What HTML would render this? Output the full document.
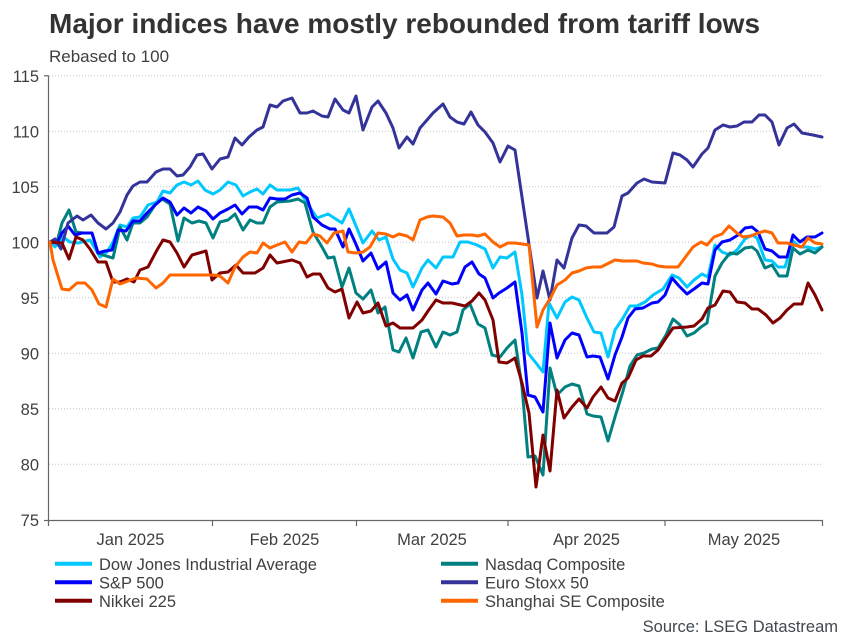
<!DOCTYPE html>
<html>
<head>
<meta charset="utf-8">
<style>
  html, body { margin: 0; padding: 0; background: #fff; }
  body { width: 850px; height: 638px; overflow: hidden; }
  svg { display: block; font-family: "Liberation Sans", Arial, sans-serif; }
</style>
</head>
<body>
<svg width="850" height="638" viewBox="0 0 850 638" xmlns="http://www.w3.org/2000/svg">
  <rect width="850" height="638" fill="#fff"/>
  <!-- Title -->
  <text x="49" y="33" font-size="28" font-weight="bold" fill="#333">Major indices have mostly rebounded from tariff lows</text>
  <text x="49" y="62" font-size="17" fill="#404040">Rebased to 100</text>

  <!-- Gridlines -->
  <g stroke="#c4c4c4" stroke-width="1" stroke-dasharray="1,2">
    <line x1="49" y1="75.8" x2="823" y2="75.8"/>
    <line x1="49" y1="131.3" x2="823" y2="131.3"/>
    <line x1="49" y1="186.8" x2="823" y2="186.8"/>
    <line x1="49" y1="242.3" x2="823" y2="242.3"/>
    <line x1="49" y1="297.8" x2="823" y2="297.8"/>
    <line x1="49" y1="353.3" x2="823" y2="353.3"/>
    <line x1="49" y1="408.8" x2="823" y2="408.8"/>
    <line x1="49" y1="464.3" x2="823" y2="464.3"/>
  </g>

  <!-- Axes -->
  <g stroke="#666" stroke-width="1.2" fill="none">
    <line x1="48.5" y1="75.8" x2="48.5" y2="521"/>
    <line x1="48" y1="520.5" x2="823" y2="520.5"/>
    <line x1="44" y1="75.8" x2="48.5" y2="75.8"/>
    <line x1="44" y1="520.5" x2="48.5" y2="520.5"/>
    <line x1="48.5" y1="520.5" x2="48.5" y2="526"/>
    <line x1="212.5" y1="520.5" x2="212.5" y2="526"/>
    <line x1="356.5" y1="520.5" x2="356.5" y2="526"/>
    <line x1="508" y1="520.5" x2="508" y2="526"/>
    <line x1="665" y1="520.5" x2="665" y2="526"/>
    <line x1="822.5" y1="520.5" x2="822.5" y2="526"/>
  </g>

  <!-- Y labels -->
  <g font-size="16.5" fill="#404040" text-anchor="end">
    <text x="39" y="81.8">115</text>
    <text x="39" y="137.3">110</text>
    <text x="39" y="192.8">105</text>
    <text x="39" y="248.3">100</text>
    <text x="39" y="303.8">95</text>
    <text x="39" y="359.3">90</text>
    <text x="39" y="414.8">85</text>
    <text x="39" y="470.3">80</text>
    <text x="39" y="526">75</text>
  </g>

  <!-- X labels -->
  <g font-size="16.5" fill="#404040" text-anchor="middle">
    <text x="130.5" y="545">Jan 2025</text>
    <text x="284.5" y="545">Feb 2025</text>
    <text x="432" y="545">Mar 2025</text>
    <text x="586.5" y="545">Apr 2025</text>
    <text x="744" y="545">May 2025</text>
  </g>

  <!-- Series -->
  <g fill="none" stroke-width="3" stroke-linejoin="round" stroke-linecap="round">
    <!-- Dow Jones -->
    <polyline stroke="#00c8ff" points="50,242 55,247 63,237 70,242 78,243 90,240 100,257 107,252 113,242 120,225 127,227 133,218 140,217 148,205 157,202 163,191 170,193 177,185 184,182 191,185 198,181 205,190 213,194 220,190 228,182 236,185 243,196 250,192 257,189 263,194 270,185 277,190 290,190 298,188 307,203 317,218 328,214 342,223 349,209 363,243 372,231 379,240 386,237 393,259 400,270 407,273 413,287 422,268 428,260 436,268 443,257 453,257 460,242 468,242 477,245 485,249 493,268 500,257 507,258 515,252 522,295 528,353 536,363 543,372 549,303 557,318 565,302 572,297 579,300 587,318 594,332 601,333 608,357 615,330 623,318 630,306 637,306 645,302 653,295 663,289 672,275 679,278 687,287 694,280 702,274 708,277 715,245 722,252 730,255 737,250 745,239 752,235 757,238 765,260 772,261 778,267 785,267 793,241 800,247 808,247 815,249 822,247"/>
    <!-- Nasdaq -->
    <polyline stroke="#008080" points="50,242 57,242 62,223 69,210 76,232 83,233 92,233 98,253 106,256 113,258 120,227 127,240 133,223 140,223 147,217 155,205 162,199 170,204 178,241 184,218 192,223 199,221 206,223 213,238 220,222 228,220 235,214 243,230 250,220 257,223 263,223 270,207 277,202 290,201 298,199 305,203 313,232 322,247 328,258 334,257 342,287 349,268 356,293 363,299 371,290 378,313 385,307 393,350 399,352 406,338 413,358 421,332 428,330 436,347 443,332 450,335 457,332 463,310 470,304 478,324 485,328 492,355 500,357 507,348 515,340 522,387 528,457 535,456 543,475 550,368 557,395 565,387 572,384 579,386 587,414 593,416 601,417 608,441 615,417 623,391 630,366 637,355 644,353 652,349 658,348 666,335 673,319 680,325 687,336 694,333 701,327 707,323 715,276 722,263 730,253 737,254 745,248 752,247 757,251 765,268 772,265 779,276 787,276 793,248 800,254 808,250 815,253 822,247"/>
    <!-- S&P 500 -->
    <polyline stroke="#0000ff" points="50,242 57,243 62,233 68,226 75,235 82,233 92,233 98,253 105,251 112,250 118,230 126,231 133,221 140,221 147,213 155,205 163,198 170,202 177,215 184,208 191,213 198,207 206,211 213,219 220,213 228,209 235,205 242,214 249,207 257,207 263,210 270,198 277,199 285,199 292,195 300,193 307,198 313,217 322,225 330,229 335,229 343,247 349,229 355,242 363,261 371,253 378,269 386,262 393,293 400,300 407,295 413,310 422,290 428,283 436,294 443,281 452,284 458,283 465,267 472,262 479,274 485,278 493,298 499,293 507,288 515,282 522,333 528,395 535,397 543,412 550,323 557,358 565,340 572,333 579,335 587,357 593,356 600,357 608,379 615,355 622,337 628,318 635,309 643,308 652,303 658,302 665,295 672,278 679,286 687,294 694,289 702,283 708,284 715,250 722,242 730,240 738,235 745,228 752,227 758,232 765,249 772,251 779,257 787,257 793,235 800,242 807,237 815,237 822,233"/>
    <!-- Euro Stoxx 50 -->
    <polyline stroke="#333399" points="50,242 55,239 61,249 68,223 77,216 83,220 91,215 98,223 106,229 113,223 120,212 127,195 133,186 140,182 147,182 156,172 163,169 170,169 177,176 183,175 190,167 197,155 203,154 212,169 220,159 228,157 235,138 242,145 249,137 257,130 263,127 270,105 277,107 283,101 292,98 300,113 307,113 313,111 322,116 328,117 335,99 343,110 349,113 356,96 363,130 372,107 378,101 386,113 393,128 399,148 407,137 413,144 420,128 427,120 433,113 443,104 450,117 457,122 464,124 471,112 478,125 485,132 493,143 500,162 508,146 515,150 537,298 543,271 550,300 557,260 564,268 572,238 579,225 586,226 594,233 607,233 614,227 622,196 628,193 637,183 644,179 652,182 665,183 673,153 680,155 687,160 693,167 702,154 708,148 715,130 723,125 730,127 737,126 744,122 752,122 759,115 765,115 772,122 779,145 787,128 794,124 802,133 813,135 822,137"/>
    <!-- Nikkei 225 -->
    <polyline stroke="#800000" points="50,242 62,243 69,259 76,237 83,240 90,249 98,262 106,262 113,282 120,282 127,279 134,282 140,270 148,267 157,250 163,240 170,242 177,253 184,267 192,255 199,253 206,251 212,280 220,273 228,272 236,265 243,273 255,273 263,268 270,255 277,263 292,260 300,263 307,277 313,274 320,274 328,288 335,292 342,289 349,318 357,302 363,313 371,311 378,303 386,326 393,323 400,328 413,328 422,320 428,311 436,300 443,303 452,303 465,306 472,301 479,293 485,300 493,320 499,362 507,363 515,358 522,383 529,413 536,487 543,435 550,471 557,390 564,418 572,407 579,399 587,408 593,397 601,387 608,398 615,401 622,383 628,378 636,360 643,356 651,356 658,350 666,338 673,328 687,327 694,326 702,319 708,308 715,305 723,291 730,292 737,302 745,303 752,309 758,309 766,315 773,323 780,318 787,310 794,304 802,304 808,283 815,295 822,310"/>
    <!-- Shanghai -->
    <polyline stroke="#ff6600" points="50,242 53,260 57,273 62,289 69,290 77,283 85,283 92,290 99,304 106,307 113,279 120,284 128,281 136,278 147,279 156,288 163,283 170,275 213,275 220,276 228,283 235,267 243,257 250,252 257,253 263,243 270,248 277,245 285,242 292,252 299,242 306,243 313,234 320,236 327,243 334,233 343,231 348,252 356,253 363,252 370,247 378,233 386,234 393,237 399,234 407,236 413,240 420,220 427,217 433,216 443,217 450,223 457,236 464,235 472,235 478,236 485,234 493,242 500,247 508,243 515,243 529,245 537,327 543,310 551,297 557,285 565,280 572,273 579,271 586,268 593,267 601,267 607,264 615,260 623,261 637,261 643,263 652,264 658,266 666,267 678,267 687,255 693,247 701,242 707,245 714,237 722,234 729,226 737,233 743,237 751,236 758,233 765,231 772,233 778,243 787,243 794,245 802,247 808,238 815,243 822,244"/>
  </g>

  <!-- Legend -->
  <g stroke-width="4">
    <line x1="55" y1="563.7" x2="92" y2="563.7" stroke="#00c8ff"/>
    <line x1="55" y1="582.3" x2="92" y2="582.3" stroke="#0000ff"/>
    <line x1="55" y1="600.7" x2="92" y2="600.7" stroke="#800000"/>
    <line x1="441" y1="563.7" x2="478" y2="563.7" stroke="#008080"/>
    <line x1="441" y1="582.3" x2="478" y2="582.3" stroke="#333399"/>
    <line x1="441" y1="600.7" x2="478" y2="600.7" stroke="#ff6600"/>
  </g>
  <g font-size="16.5" fill="#404040">
    <text x="99" y="569.8">Dow Jones Industrial Average</text>
    <text x="99" y="588.4">S&amp;P 500</text>
    <text x="99" y="606.8">Nikkei 225</text>
    <text x="485" y="569.8">Nasdaq Composite</text>
    <text x="485" y="588.4">Euro Stoxx 50</text>
    <text x="485" y="606.8">Shanghai SE Composite</text>
  </g>
  <text x="838" y="632" font-size="16.5" fill="#404850" text-anchor="end">Source: LSEG Datastream</text>
</svg>
</body>
</html>
